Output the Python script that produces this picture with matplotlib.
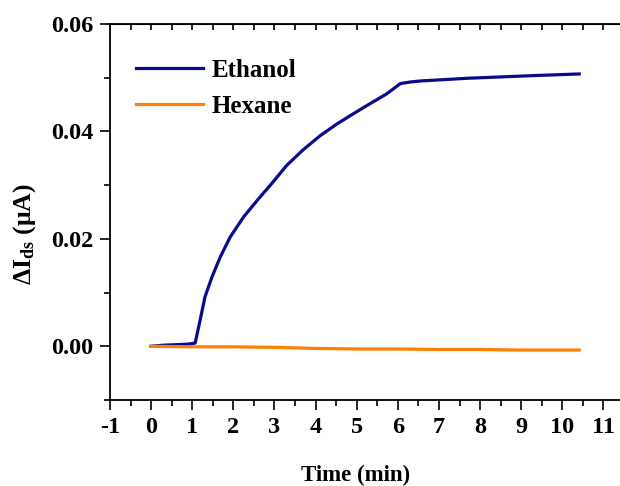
import matplotlib.pyplot as plt
from matplotlib.ticker import MultipleLocator

plt.rcParams['font.family'] = ['Liberation Serif', 'DejaVu Serif']
plt.rcParams['font.weight'] = 'bold'
plt.rcParams['axes.unicode_minus'] = False
plt.rcParams['mathtext.fontset'] = 'custom'
plt.rcParams['mathtext.rm'] = 'Liberation Serif:bold'
plt.rcParams['mathtext.it'] = 'Liberation Serif:bold'
plt.rcParams['mathtext.bf'] = 'Liberation Serif:bold'

# Ethanol response
eth_t = [0.0, 0.3, 0.6, 0.9, 1.07, 1.19, 1.31, 1.48, 1.68, 1.92, 2.25, 2.65, 2.9,
         3.3, 3.7, 4.11, 4.52, 4.92, 5.33, 5.73, 6.06, 6.3, 6.56, 7.7, 9.32, 10.41]
eth_i = [0.0000, 0.0002, 0.0003, 0.0004, 0.0006, 0.0048, 0.0092, 0.0129, 0.0166,
         0.0203, 0.0241, 0.0278, 0.0300, 0.0337, 0.0366, 0.0392, 0.0414, 0.0433,
         0.0452, 0.0470, 0.0489, 0.0492, 0.0494, 0.0499, 0.0504, 0.0507]

# Hexane response
hex_t = [0.0, 1.0, 2.0, 3.0, 4.0, 5.0, 6.0, 7.0, 8.0, 9.0, 10.41]
hex_i = [0.0000, -0.0001, -0.0001, -0.0002, -0.0004, -0.0005, -0.0005, -0.0006,
         -0.0006, -0.0007, -0.0007]

fig = plt.figure(figsize=(6.2, 4.86), dpi=100)
ax = fig.add_axes([110 / 620, 1 - 400 / 486, 514 / 620, 376 / 486])

ax.plot(eth_t, eth_i, color='#0a0a8c', lw=2.3, label='Ethanol')
ax.plot(hex_t, hex_i, color='#ff8000', lw=2.3, label='Hexane')

ax.set_xlim(-1, 11.5)
ax.set_ylim(-0.01, 0.06)
ax.xaxis.set_major_locator(MultipleLocator(1))
ax.xaxis.set_minor_locator(MultipleLocator(0.5))
ax.yaxis.set_major_locator(MultipleLocator(0.02))
ax.yaxis.set_minor_locator(MultipleLocator(0.01))
ax.yaxis.set_major_formatter(plt.FormatStrFormatter('%.2f'))

ax.tick_params(axis='both', which='major', direction='out', length=7, width=1.2,
               labelsize=17.5, pad=5)
ax.tick_params(axis='both', which='minor', direction='out', length=4, width=1.2)
for s in ax.spines.values():
    s.set_linewidth(1.3)

# top axis ticks pointing inward
top = ax.secondary_xaxis('top')
top.xaxis.set_major_locator(MultipleLocator(1))
top.xaxis.set_minor_locator(MultipleLocator(0.5))
top.tick_params(which='both', direction='in', length=4, width=1.2, labeltop=False)

ax.set_xlabel('Time (min)', fontsize=16.5, fontweight='bold')
ax.xaxis.set_label_coords(0.477, -0.172)
ax.set_ylabel('ΔI$_{\\mathrm{ds}}$ (μA)', fontsize=18.5, fontweight='bold')
ax.yaxis.set_label_coords(-0.14, 0.44)

ax.legend(loc='upper left', bbox_to_anchor=(0.05, 0.907), frameon=False,
          borderpad=0, borderaxespad=0, fontsize=18, handlelength=2.7,
          handletextpad=0.32, labelspacing=0.52)

fig.savefig('out.png', dpi=100)
